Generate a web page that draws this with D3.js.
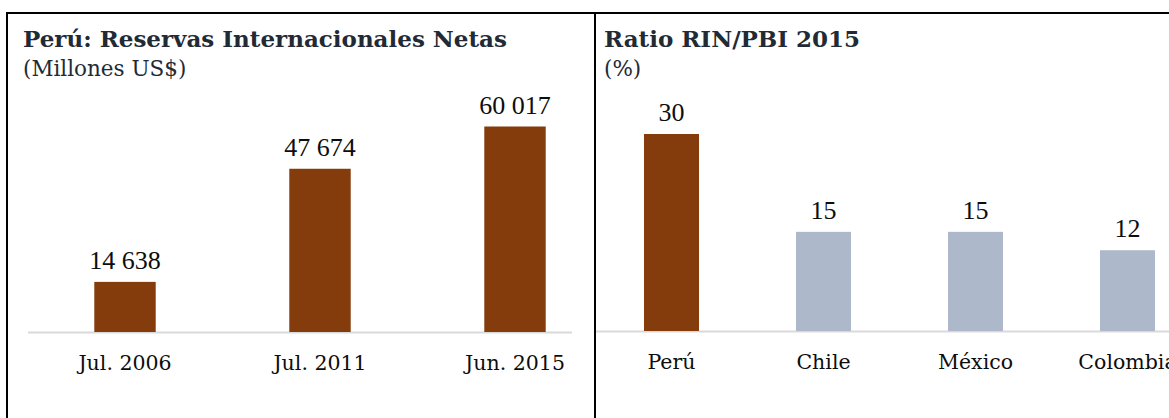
<!DOCTYPE html>
<html>
<head>
<meta charset="utf-8">
<script src="https://cdn.jsdelivr.net/npm/d3@7"></script>
<style>
  html, body { margin: 0; padding: 0; background: #fff; }
  svg { display: block; }
</style>
</head>
<body>
<div id="chart"></div>
<script>
// --- Daten ---
const rinCategories = ["Jul. 2006", "Jul. 2011", "Jun. 2015"];
const rinValues = [14638, 47674, 60017];

const ratioCategories = ["Perú", "Chile", "México", "Colombia"];
const ratioValues = [30, 15.1, 15.1, 12.3];
const ratioLabels = ["30", "15", "15", "12"];

const W = 1169, H = 418;
const brown = "#843c0c";
const grayBlue = "#adb9ca";
const titleColor = "#222a35";
const axisColor = "#d9d9d9";
const serifWide = "'DejaVu Serif', serif";
const serifNarrow = "'Liberation Serif', serif";

const svg = d3.select("#chart").append("svg")
  .attr("width", W)
  .attr("height", H);

// --- Rahmen ---
const frame = svg.append("g").attr("fill", "none").attr("stroke", "#000").attr("stroke-width", 2);
frame.append("path").attr("d", `M7,${H + 5}V13H${W + 5}`);
frame.append("line").attr("x1", 595).attr("x2", 595).attr("y1", 13).attr("y2", H + 5);

const fmtSpace = v => d3.format(",")(v).replace(/,/g, " ");

function drawPanel(opts) {
  const g = svg.append("g");

  g.append("text")
    .attr("x", opts.titleX)
    .attr("y", 47)
    .attr("fill", titleColor)
    .style("font-family", serifWide)
    .style("font-weight", "bold")
    .style("font-size", "23px")
    .text(opts.title);

  g.append("text")
    .attr("x", opts.titleX)
    .attr("y", 76)
    .attr("fill", titleColor)
    .style("font-family", serifWide)
    .style("font-size", "21.5px")
    .text(opts.subtitle);

  const x = d3.scaleBand()
    .domain(opts.categories)
    .range(opts.xRange)
    .paddingInner(opts.pad)
    .paddingOuter(opts.pad / 2);

  const y = d3.scaleLinear()
    .domain(opts.yDomain)
    .range(opts.yRange);

  // Grundlinie
  g.append("line")
    .attr("x1", opts.lineX[0])
    .attr("x2", opts.lineX[1])
    .attr("y1", y(0) + 0.5)
    .attr("y2", y(0) + 0.5)
    .attr("stroke", axisColor)
    .attr("stroke-width", 2);

  g.selectAll("rect.bar")
    .data(opts.values)
    .join("rect")
    .attr("class", "bar")
    .attr("x", (d, i) => x(opts.categories[i]))
    .attr("width", x.bandwidth())
    .attr("y", d => y(d))
    .attr("height", d => y(0) - y(d))
    .attr("fill", (d, i) => opts.colors[i]);

  g.selectAll("text.val")
    .data(opts.values)
    .join("text")
    .attr("class", "val")
    .attr("x", (d, i) => x(opts.categories[i]) + x.bandwidth() / 2)
    .attr("y", d => y(d) - 13)
    .attr("text-anchor", "middle")
    .attr("fill", "#0d0d0d")
    .style("font-family", serifNarrow)
    .style("font-size", "26px")
    .text((d, i) => opts.labels[i]);

  // Achse nur für Beschriftung
  const axis = g.append("g")
    .attr("transform", `translate(0,${y(0)})`)
    .call(d3.axisBottom(x).tickSize(0).tickPadding(0));
  axis.select(".domain").remove();
  axis.attr("font-family", null).attr("font-size", null);
  axis.selectAll("text")
    .attr("y", 38)
    .attr("dy", null)
    .attr("fill", "#0d0d0d")
    .style("font-family", serifWide)
    .style("font-size", "20.5px");
}

drawPanel({
  title: "Perú: Reservas Internacionales Netas",
  subtitle: "(Millones US$)",
  titleX: 23,
  categories: rinCategories,
  values: rinValues,
  labels: rinValues.map(fmtSpace),
  colors: rinValues.map(() => brown),
  xRange: [27.5, 612.5],
  pad: 0.685,
  yDomain: [0, 60017],
  yRange: [332, 126.5],
  lineX: [28, 572]
});

drawPanel({
  title: "Ratio RIN/PBI 2015",
  subtitle: "(%)",
  titleX: 604,
  categories: ratioCategories,
  values: ratioValues,
  labels: ratioLabels,
  colors: ratioCategories.map((c, i) => i === 0 ? brown : grayBlue),
  xRange: [595.5, 1203.5],
  pad: 0.638,
  yDomain: [0, 30],
  yRange: [331, 134],
  lineX: [596, W]
});
</script>
</body>
</html>
